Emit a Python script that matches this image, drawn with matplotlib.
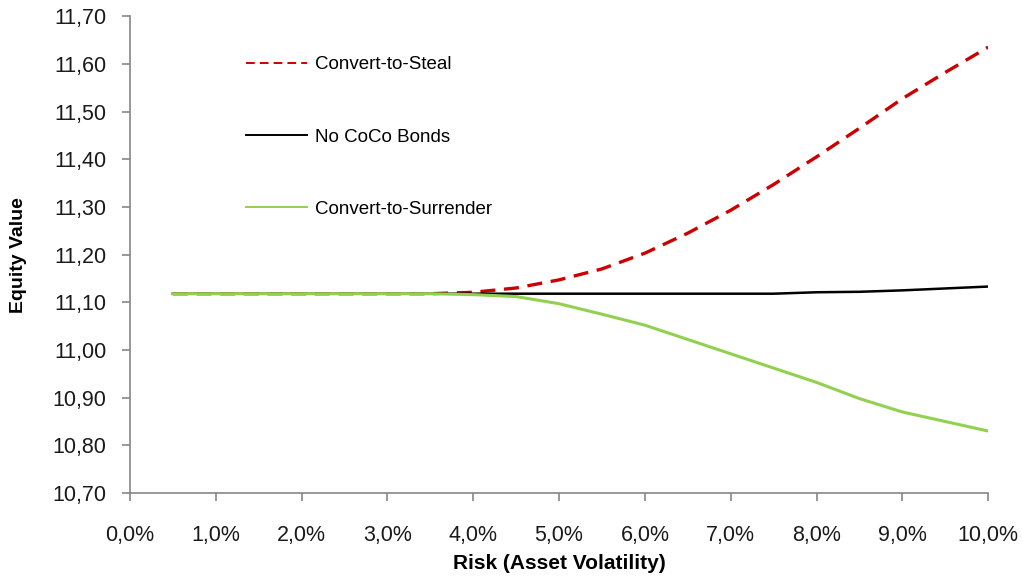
import matplotlib
matplotlib.use("Agg")
from matplotlib import pyplot as plt
from matplotlib.ticker import FuncFormatter, MultipleLocator

# risk (asset volatility) in percent
risk = [0.5, 1.0, 1.5, 2.0, 2.5, 3.0, 3.5, 4.0, 4.5, 5.0,
        5.5, 6.0, 6.5, 7.0, 7.5, 8.0, 8.5, 9.0, 9.5, 10.0]

convert_to_steal = [11.118, 11.118, 11.118, 11.118, 11.118, 11.118, 11.118, 11.121, 11.130, 11.147,
                    11.170, 11.203, 11.245, 11.293, 11.347, 11.405, 11.465, 11.527, 11.582, 11.635]
no_coco = [11.118, 11.118, 11.118, 11.118, 11.118, 11.118, 11.118, 11.118, 11.118, 11.118,
           11.118, 11.118, 11.118, 11.118, 11.118, 11.121, 11.122, 11.125, 11.129, 11.133]
convert_to_surrender = [11.118, 11.118, 11.118, 11.118, 11.118, 11.118, 11.118, 11.116, 11.112, 11.097,
                        11.075, 11.052, 11.022, 10.992, 10.962, 10.932, 10.898, 10.870, 10.850, 10.830]

plt.rcParams['font.family'] = ['Liberation Sans', 'DejaVu Sans']

fig = plt.figure(figsize=(10.23, 5.76), dpi=100)
ax = fig.add_axes([0.127, 0.144, 0.839, 0.828])

ax.plot(risk, convert_to_steal, color="#cc0000", linewidth=2.4, linestyle=(0, (4.5, 2.6)),
        label="Convert-to-Steal")
ax.plot(risk, no_coco, color="black", linewidth=1.8, label="No CoCo Bonds")
ax.plot(risk, convert_to_surrender, color="#92d050", linewidth=2.2, label="Convert-to-Surrender")

ax.set_xlim(0, 10)
ax.set_ylim(10.70, 11.70)
ax.xaxis.set_major_locator(MultipleLocator(1))
ax.yaxis.set_major_locator(MultipleLocator(0.1))
ax.xaxis.set_major_formatter(FuncFormatter(lambda v, p: f"{v:.1f}%".replace(".", ",")))
ax.yaxis.set_major_formatter(FuncFormatter(lambda v, p: f"{v:.2f}".replace(".", ",")))

for side in ("top", "right"):
    ax.spines[side].set_visible(False)
for side in ("left", "bottom"):
    ax.spines[side].set_color("#868686")
    ax.spines[side].set_linewidth(1.2)
ax.tick_params(colors="#868686", labelcolor="#1a1a1a", labelsize=15.5, length=6, width=1.2)
ax.tick_params(axis="x", pad=17)
ax.tick_params(axis="y", pad=11)

ax.set_xlabel("Risk (Asset Volatility)", fontsize=15, fontweight="bold", labelpad=6)
ax.set_ylabel("Equity Value", fontsize=14, fontweight="bold", labelpad=18)

leg = ax.legend(loc="upper left", bbox_to_anchor=(0.115, 0.951), frameon=False, fontsize=13.5,
                labelspacing=2.94, handlelength=3.3, handletextpad=0.43)
for line in leg.get_lines():
    line.set_linewidth(1.4)

fig.savefig("out.png", dpi=100)
